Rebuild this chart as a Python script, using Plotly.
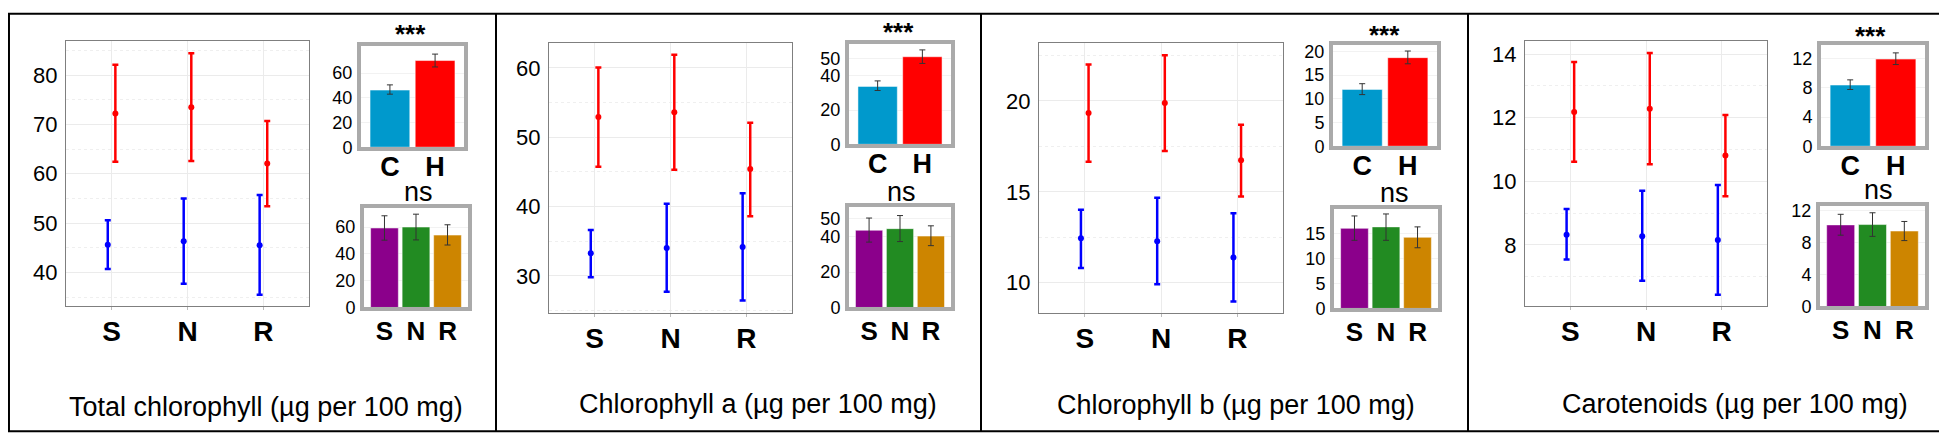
import plotly.graph_objects as go

# ---------------- data ----------------
categories = ["S", "N", "R"]
groups = ["C", "H"]
titles = ["Total chlorophyll (µg per 100 mg)", "Chlorophyll a (µg per 100 mg)",
          "Chlorophyll b (µg per 100 mg)", "Carotenoids (µg per 100 mg)"]

# main panels: blue (C) and red (H) means with error-bar bounds, per panel, per S/N/R
blue_mean = [[45.6, 46.3, 45.5], [33.25, 34.0, 34.15], [12.44, 12.28, 11.38], [8.32, 8.27, 8.15]]
blue_upper = [[50.6, 55.0, 55.7], [36.6, 40.4, 41.9], [14.02, 14.67, 13.82], [9.13, 9.70, 9.88]]
blue_lower = [[40.7, 37.7, 35.5], [29.8, 27.7, 26.45], [10.81, 9.91, 8.97], [7.54, 6.87, 6.43]]
red_mean = [[72.2, 73.5, 62.1], [52.9, 53.6, 45.4], [19.33, 19.88, 16.74], [12.18, 12.28, 10.81]]
red_upper = [[82.1, 84.4, 70.7], [60.05, 61.9, 52.1], [22.0, 22.51, 18.69], [13.75, 14.03, 12.08]]
red_lower = [[62.45, 62.6, 53.4], [45.75, 45.3, 38.6], [16.65, 17.24, 14.74], [10.61, 10.53, 9.53]]

# top insets: C vs H
ch_mean = [[46.2, 70.1], [33.8, 51.1], [12.0, 18.7], [8.39, 11.95]]
ch_upper = [[50.4, 75.3], [37.0, 55.1], [13.2, 20.1], [9.1, 12.8]]
ch_lower = [[42.9, 64.9], [31.4, 47.2], [10.9, 17.4], [7.78, 11.2]]

# bottom insets: S / N / R
snr_mean = [[59.3, 60.0, 54.0], [43.6, 44.5, 40.3], [16.1, 16.4, 14.3], [10.24, 10.28, 9.47]]
snr_upper = [[68.4, 69.6, 61.7], [50.5, 51.9, 46.1], [18.6, 19.0, 16.4], [11.57, 11.76, 10.67]]
snr_lower = [[50.2, 50.4, 46.6], [36.9, 37.2, 34.9], [13.7, 13.7, 12.2], [8.95, 8.8, 8.27]]

top_sig = ["***", "***", "***", "***"]
bot_sig = ["ns", "ns", "ns", "ns"]

# axis settings
main_range = [[33.1, 86.9], [24.6, 63.6], [8.32, 23.19], [6.06, 14.41]]
main_dtick = [10, 10, 5, 2]
top_range = [[0, 82], [0, 58.6], [0, 21.4], [0, 13.9]]
top_ticks = [[0, 20, 40, 60], [0, 20, 40, 50], [0, 5, 10, 15, 20], [0, 4, 8, 12]]
bot_range = [[0, 74.2], [0, 56.7], [0, 20], [0, 12.6]]
bot_ticks = [[0, 20, 40, 60], [0, 20, 40, 50], [0, 5, 10, 15], [0, 4, 8, 12]]

# ---------------- layout geometry (pixels) ----------------
W, H = 1947, 434
main_box = [(58, 301, 29, 304), (541, 784, 31, 311), (1031, 1275, 31, 311), (1517, 1759, 29, 304)]
top_box = [(353, 456, 34, 139), (841, 943, 32, 136), (1325, 1429, 33, 138), (1813, 1917, 33, 138)]
bot_box = [(356, 460, 202, 305), (841, 943, 201, 305), (1326, 1430, 203, 306), (1812, 1917, 200, 304)]
top_sig_pos = [(402, 22), (890, 20), (1376, 23), (1862, 24)]
bot_sig_pos = [(410, 185), (893, 185), (1386, 186), (1870, 183)]
title_pos = [(258, 408), (750, 405), (1228, 406), (1727, 405)]
dividers = [488, 973, 1460]

FONT = "Liberation Sans, Arial, Helvetica, sans-serif"
C_COLORS = ["#0099CC", "#FF0000"]
SNR_COLORS = ["#8B008B", "#228B22", "#CD8500"]


def dx(b):
    return [b[0] / W, b[1] / W]


def dy(b):
    return [1 - b[3] / H, 1 - b[2] / H]


def axname(k):
    return ("x" if k == 1 else f"x{k}"), ("y" if k == 1 else f"y{k}")


def laykey(k):
    return ("xaxis" if k == 1 else f"xaxis{k}"), ("yaxis" if k == 1 else f"yaxis{k}")


fig = go.Figure()
layout_axes = {}
annotations = []

for p in range(4):
    km, kt, kb = 3 * p + 1, 3 * p + 2, 3 * p + 3

    # ---- main error-bar plot ----
    xa, ya = axname(km)
    for mean, up, lo, col, grp in [(blue_mean[p], blue_upper[p], blue_lower[p], "#0000FF", "b"),
                                   (red_mean[p], red_upper[p], red_lower[p], "#FF0000", "r")]:
        fig.add_trace(go.Scatter(
            x=categories, y=mean, mode="markers", xaxis=xa, yaxis=ya,
            offsetgroup=grp, showlegend=False,
            marker=dict(color=col, size=6),
            error_y=dict(type="data", symmetric=False,
                         array=[u - m for u, m in zip(up, mean)],
                         arrayminus=[m - l for m, l in zip(mean, lo)],
                         color=col, thickness=2.5, width=3)))
    kx, ky = laykey(km)
    layout_axes[kx] = dict(domain=dx(main_box[p]), anchor=ya, range=[-0.6, 2.6],
                           tickmode="array", tickvals=categories, ticktext=categories,
                           showline=True, mirror=True, linecolor="#7F7F7F", linewidth=1,
                           showgrid=True, gridcolor="#EBEBEB", gridwidth=1, zeroline=False,
                           ticks="outside", ticklen=3, tickcolor="#BBBBBB",
                           tickfont=dict(size=28, color="black", family=FONT, weight="bold"),
                           ticklabelstandoff=-3)
    layout_axes[ky] = dict(domain=dy(main_box[p]), anchor=xa, range=main_range[p],
                           tick0=0, dtick=main_dtick[p],
                           showline=True, mirror=True, linecolor="#7F7F7F", linewidth=1,
                           showgrid=True, gridcolor="#EBEBEB", gridwidth=1, zeroline=False,
                           minor=dict(dtick=main_dtick[p] / 2, tick0=0, showgrid=True,
                                      gridcolor="#EFEFEF", griddash="dot"),
                           ticks="", tickfont=dict(size=22, color="black", family=FONT),
                           ticklabelstandoff=3)

    # ---- top inset: C vs H ----
    xa, ya = axname(kt)
    fig.add_trace(go.Bar(
        x=groups, y=ch_mean[p], xaxis=xa, yaxis=ya, width=0.88, showlegend=False,
        marker=dict(color=C_COLORS, line=dict(color="rgba(255,255,255,0.5)", width=1)),
        error_y=dict(type="data", symmetric=False,
                     array=[u - m for u, m in zip(ch_upper[p], ch_mean[p])],
                     arrayminus=[m - l for m, l in zip(ch_mean[p], ch_lower[p])],
                     color="#333333", thickness=1, width=3)))
    kx, ky = laykey(kt)
    layout_axes[kx] = dict(domain=dx(top_box[p]), anchor=ya, range=[-0.64, 1.64],
                           tickmode="array", tickvals=groups, ticktext=groups,
                           showline=True, mirror=True, linecolor="#AAAAAA", linewidth=4,
                           showgrid=False, zeroline=False, ticks="",
                           tickfont=dict(size=27, color="black", family=FONT, weight="bold"),
                           ticklabelstandoff=-8)
    layout_axes[ky] = dict(domain=dy(top_box[p]), anchor=xa, range=top_range[p],
                           tickmode="array", tickvals=top_ticks[p],
                           showline=True, mirror=True, linecolor="#AAAAAA", linewidth=4,
                           showgrid=True, gridcolor="#F2F2F2", zeroline=False, ticks="",
                           tickfont=dict(size=18, color="black", family=FONT),
                           ticklabelstandoff=1)

    # ---- bottom inset: S / N / R ----
    xa, ya = axname(kb)
    fig.add_trace(go.Bar(
        x=categories, y=snr_mean[p], xaxis=xa, yaxis=ya, width=0.88, showlegend=False,
        marker=dict(color=SNR_COLORS, line=dict(color="rgba(255,255,255,0.5)", width=1)),
        error_y=dict(type="data", symmetric=False,
                     array=[u - m for u, m in zip(snr_upper[p], snr_mean[p])],
                     arrayminus=[m - l for m, l in zip(snr_mean[p], snr_lower[p])],
                     color="#333333", thickness=1, width=3)))
    kx, ky = laykey(kb)
    layout_axes[kx] = dict(domain=dx(bot_box[p]), anchor=ya, range=[-0.65, 2.65],
                           tickmode="array", tickvals=categories, ticktext=categories,
                           showline=True, mirror=True, linecolor="#AAAAAA", linewidth=4,
                           showgrid=False, zeroline=False, ticks="",
                           tickfont=dict(size=26, color="black", family=FONT, weight="bold"),
                           ticklabelstandoff=-3)
    layout_axes[ky] = dict(domain=dy(bot_box[p]), anchor=xa, range=bot_range[p],
                           tickmode="array", tickvals=bot_ticks[p],
                           showline=True, mirror=True, linecolor="#AAAAAA", linewidth=4,
                           showgrid=True, gridcolor="#F2F2F2", zeroline=False, ticks="",
                           tickfont=dict(size=18, color="black", family=FONT),
                           ticklabelstandoff=1)

    # ---- texts ----
    annotations.append(dict(text=top_sig[p], x=top_sig_pos[p][0] / W, y=1 - top_sig_pos[p][1] / H,
                            xref="paper", yref="paper", showarrow=False, xanchor="center",
                            yanchor="middle", font=dict(size=26, color="black", family=FONT, weight="bold")))
    annotations.append(dict(text=bot_sig[p], x=bot_sig_pos[p][0] / W, y=1 - bot_sig_pos[p][1] / H,
                            xref="paper", yref="paper", showarrow=False, xanchor="center",
                            yanchor="middle", font=dict(size=27, color="black", family=FONT)))
    annotations.append(dict(text=titles[p], x=title_pos[p][0] / W, y=1 - title_pos[p][1] / H,
                            xref="paper", yref="paper", showarrow=False, xanchor="center",
                            yanchor="middle", font=dict(size=27, color="black", family=FONT)))

shapes = [dict(type="rect", xref="paper", yref="paper", x0=0.0005, x1=0.9995, y0=0.002, y1=0.998,
               line=dict(color="black", width=2))]
for d in dividers:
    shapes.append(dict(type="line", xref="paper", yref="paper", x0=d / W, x1=d / W, y0=0, y1=1,
                       line=dict(color="black", width=2)))

fig.update_layout(
    width=W, height=H, margin=dict(l=0, r=0, t=0, b=0),
    paper_bgcolor="white", plot_bgcolor="white",
    font=dict(family=FONT, color="black"),
    showlegend=False, scattermode="group", scattergap=0.8,
    annotations=annotations, shapes=shapes, **layout_axes)

fig.write_html("out.html")
